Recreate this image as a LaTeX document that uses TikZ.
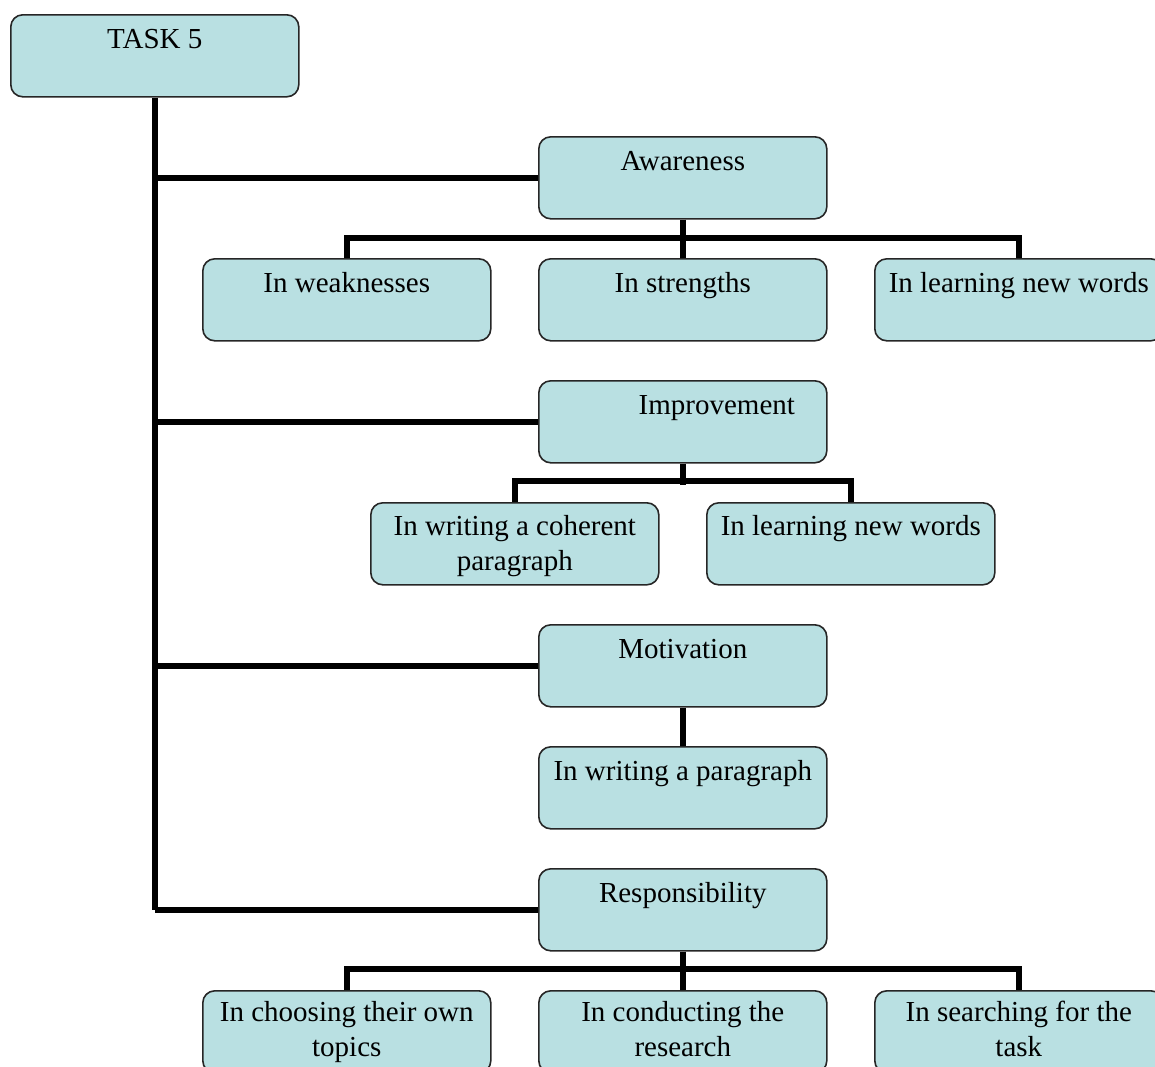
\documentclass[tikz,border=0pt]{standalone}
\usepackage{fontspec}
\setmainfont{Liberation Serif}
\definecolor{boxfill}{RGB}{185,224,226}
\begin{document}
\begin{tikzpicture}[x=1pt,y=-1pt,
  box/.style={draw=black!85, line width=1.6pt, rounded corners=12pt, fill=boxfill,
    minimum width=288pt, minimum height=82pt, inner sep=0pt, anchor=north west},
  txt/.style={font=\fontsize{29}{35}\selectfont, align=center, anchor=base, inner sep=0pt},
  conn/.style={line width=6pt}]
\useasboundingbox (0,0) rectangle (1155,1066);
\node[box] (task) at (10,14) {};
\node[box] (aw) at (538,136) {};
\node[box] (w1) at (202,258) {};
\node[box] (w2) at (538,258) {};
\node[box] (w3) at (874,258) {};
\node[box] (imp) at (538,380) {};
\node[box] (c1) at (370,502) {};
\node[box] (c2) at (706,502) {};
\node[box] (mot) at (538,624) {};
\node[box] (mp) at (538,746) {};
\node[box] (resp) at (538,868) {};
\node[box] (r1) at (202,990) {};
\node[box] (r2) at (538,990) {};
\node[box] (r3) at (874,990) {};
\begin{scope}[conn]
\draw (task.south) -- (task.south |- resp.west);
\draw (task.south |- aw.west) -- (aw.west);
\draw (task.south |- imp.west) -- (imp.west);
\draw (task.south |- mot.west) -- (mot.west);
\draw (task.south |- resp.west) -- (resp.west);
\draw (aw.south) -- (w2.north);
\draw (w1.north) -- ++(0,-20) -| (w3.north);
\draw (imp.south) -- ++(0,21);
\draw (c1.north) -- ++(0,-21) -| (c2.north);
\draw (mot.south) -- (mp.north);
\draw (resp.south) -- (r2.north);
\draw (r1.north) -- ++(0,-21) -| (r3.north);
\end{scope}
% texts
\node[txt] (ttask) at ([yshift=-34pt]task.north) {TASK 5};
\node[txt] (taw) at ([yshift=-34pt]aw.north) {Awareness};
\node[txt] (tw1) at ([yshift=-34pt]w1.north) {In weaknesses};
\node[txt] (tw2) at ([yshift=-34pt]w2.north) {In strengths};
\node[txt] (tw3) at ([yshift=-34pt]w3.north) {In learning new words};
\node[txt] (timp) at ([xshift=34pt,yshift=-34pt]imp.north) {Improvement};
\node[txt] (tc1) at ([yshift=-68pt]c1.north) {In writing a coherent\\paragraph};
\node[txt] (tc2) at ([yshift=-33pt]c2.north) {In learning new words};
\node[txt] (tmot) at ([yshift=-34pt]mot.north) {Motivation};
\node[txt] (tmp) at ([yshift=-34pt]mp.north) {In writing a paragraph};
\node[txt] (tresp) at ([yshift=-34pt]resp.north) {Responsibility};
\node[txt] (tr1) at ([yshift=-66pt]r1.north) {In choosing their own\\topics};
\node[txt] (tr2) at ([yshift=-66pt]r2.north) {In conducting the\\research};
\node[txt] (tr3) at ([yshift=-66pt]r3.north) {In searching for the\\task};
\end{tikzpicture}
\end{document}
